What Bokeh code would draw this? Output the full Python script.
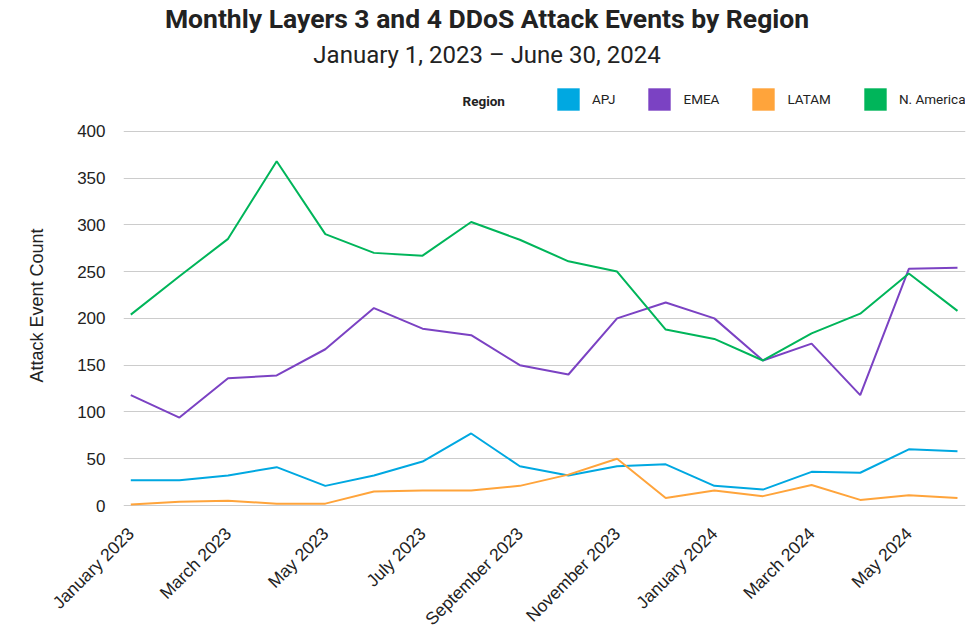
import math
from bokeh.plotting import figure
from bokeh.models import (Range1d, FixedTicker, Label, Legend, LegendItem, Title)
from bokeh.embed import file_html
from bokeh.resources import INLINE

# ---------------- data ----------------
months = ["January 2023", "February 2023", "March 2023", "April 2023", "May 2023",
          "June 2023", "July 2023", "August 2023", "September 2023", "October 2023",
          "November 2023", "December 2023", "January 2024", "February 2024",
          "March 2024", "April 2024", "May 2024", "June 2024"]
apj = [27, 27, 32, 41, 21, 32, 47, 77, 42, 32, 42, 44, 21, 17, 36, 35, 60, 58]
emea = [118, 94, 136, 139, 167, 211, 189, 182, 150, 140, 200, 217, 200, 155, 173, 118, 253, 254]
latam = [1, 4, 5, 2, 2, 15, 16, 16, 21, 33, 50, 8, 16, 10, 22, 6, 11, 8]
namerica = [204, 245, 285, 368, 290, 270, 267, 303, 284, 261, 250, 188, 178, 155, 184, 205, 248, 208]
series_names = ["APJ", "EMEA", "LATAM", "N. America"]
series_colors = ["#00A8E1", "#7B42C3", "#FFA43B", "#00B55A"]
y_ticks = [0, 50, 100, 150, 200, 250, 300, 350, 400]
x_tick_idx = list(range(0, 18, 2))

title_text = "Monthly Layers 3 and 4 DDoS Attack Events by Region"
subtitle_text = "January 1, 2023 \u2013 June 30, 2024"
y_title = "Attack Event Count"
legend_title = "Region"

FONT = "Roboto"
AXFONT = "Liberation Sans"
TXT = "#222222"

# ---------------- layout ----------------
W, H = 969, 639
FL, FR, FB = 123, 965, 509           # frame left / right / bottom (px)
X0, X1 = -0.15, 17.165
Y0, Y1 = -3.2, 539.73
xs = (FR - FL) / (X1 - X0)
ys = FB / (Y1 - Y0)

def dx(px):  # pixel x -> data x
    return X0 + (px - FL) / xs

def dy(py):  # pixel y (from top) -> data y
    return Y0 + (FB - py) / ys

x = list(range(len(months)))

p = figure(width=W, height=H, output_backend="svg", toolbar_location=None,
           x_range=Range1d(X0, X1), y_range=Range1d(Y0, Y1),
           min_border_left=FL, min_border_right=W - FR, min_border_top=0,
           min_border_bottom=H - FB, title=None)
p.outline_line_color = None
p.background_fill_color = "white"
p.border_fill_color = "white"

series = [apj, emea, latam, namerica]
items = []
for name, vals, col in zip(series_names, series, series_colors):
    p.line(x, vals, line_color=col, line_width=2)
    proxy = p.quad(left=x, right=x, top=vals, bottom=vals, fill_color=col,
                   line_color=None, visible=False)
    items.append(LegendItem(label=name, renderers=[proxy]))

# axes
xa = p.xaxis[0]
xa.ticker = FixedTicker(ticks=x_tick_idx)
xa.major_label_overrides = {i: months[i] for i in x_tick_idx}
xa.major_label_orientation = math.pi / 4
xa.axis_line_color = None
xa.major_tick_line_color = None
xa.minor_tick_line_color = None
xa.major_tick_out = 0
xa.major_label_standoff = 22
xa.major_label_text_font = AXFONT
xa.major_label_text_font_size = "17.5px"
xa.major_label_text_color = TXT

ya = p.yaxis[0]
ya.ticker = FixedTicker(ticks=y_ticks)
ya.axis_line_color = None
ya.major_tick_line_color = None
ya.minor_tick_line_color = None
ya.major_tick_out = 0
ya.major_label_standoff = 18
ya.major_label_text_font = AXFONT
ya.major_label_text_font_size = "17px"
ya.major_label_text_color = TXT

# y-axis title as a side title (lets it sit off-centre like the reference)
p.add_layout(Title(text=y_title, align="left", offset=126, standoff=51,
                   vertical_align="top",
                   text_font=AXFONT, text_font_size="18px",
                   text_font_style="normal", text_color=TXT), "left")

p.xgrid.grid_line_color = None
p.ygrid.grid_line_color = "#CCCCCC"
p.ygrid.grid_line_width = 1
p.ygrid.ticker = FixedTicker(ticks=y_ticks)

# titles
p.add_layout(Label(x=dx(486.5), y=dy(18), text=title_text, text_align="center",
                   text_baseline="middle", text_font=FONT, text_font_size="26.5px",
                   text_font_style="bold", text_color=TXT))
p.add_layout(Label(x=dx(486.5), y=dy(55), text=subtitle_text, text_align="center",
                   text_baseline="middle", text_font=FONT, text_font_size="24px",
                   text_color=TXT))
p.add_layout(Label(x=dx(462), y=dy(101), text=legend_title, text_align="left",
                   text_baseline="middle", text_font=FONT, text_font_size="13.5px",
                   text_font_style="bold", text_color=TXT))

legend = Legend(items=items, orientation="horizontal", location=(431, 395),
                glyph_width=28, glyph_height=28, label_standoff=10, spacing=30,
                padding=0, margin=0, border_line_color=None,
                background_fill_alpha=0, label_text_font=FONT,
                label_text_font_size="13.5px", label_text_color=TXT,
                click_policy="none")
p.add_layout(legend)

open("out.html", "w").write(file_html(p, INLINE))
